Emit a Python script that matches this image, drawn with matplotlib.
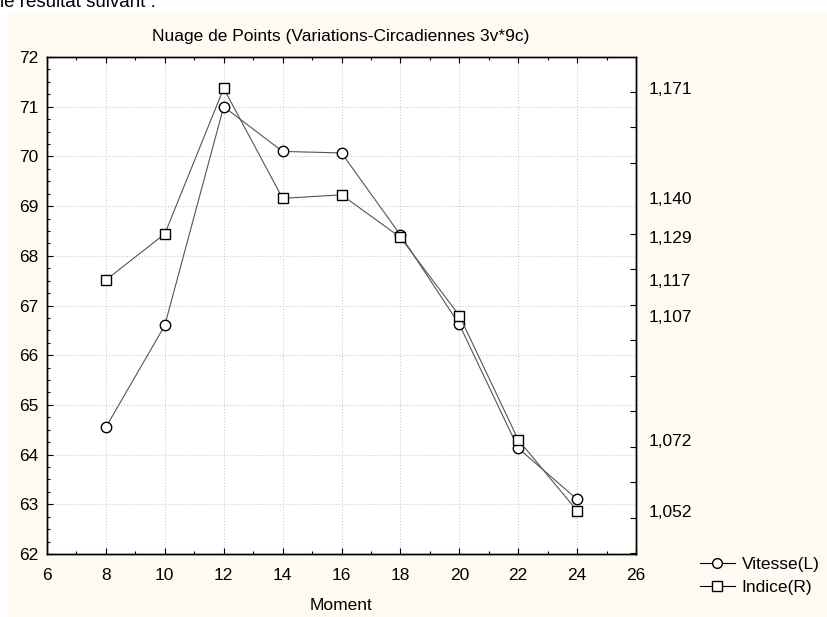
import matplotlib
matplotlib.use("Agg")
import matplotlib.pyplot as plt
from matplotlib.patches import Rectangle
from matplotlib.lines import Line2D
from matplotlib.ticker import MultipleLocator, FixedLocator

plt.rcParams['font.family'] = ['Liberation Sans', 'DejaVu Sans']

# data
moment = [8, 10, 12, 14, 16, 18, 20, 22, 24]
vitesse = [64.55, 66.6, 71.0, 70.1, 70.07, 68.42, 66.62, 64.13, 63.1]
indice = [1.117, 1.130, 1.171, 1.140, 1.141, 1.129, 1.107, 1.072, 1.052]
right_labels = [1.171, 1.140, 1.129, 1.117, 1.107, 1.072, 1.052]

title = "Nuage de Points (Variations-Circadiennes 3v*9c)"

fig = plt.figure(figsize=(8.28, 6.17), dpi=100)
fig.patch.set_facecolor("white")
fig.patches.append(Rectangle((7 / 828, 0), 1, 1 - 11 / 617, transform=fig.transFigure,
                             facecolor="#fffaf2", edgecolor="none", zorder=-10))
fig.text(0.0, 1 - 7 / 617, "le résultat suivant :", fontsize=13.5, va="baseline", ha="left")

ax = fig.add_axes([47 / 828, 1 - 554 / 617, 589 / 828, 497 / 617])
ax.set_facecolor("white")
ax2 = ax.twinx()

line_kw = dict(color="#555555", lw=0.8, markerfacecolor="white",
               markeredgecolor="black", markeredgewidth=1.0, markersize=7.5)
ax.plot(moment, vitesse, marker="o", **line_kw)
ax2.plot(moment, indice, marker="s", **line_kw)

ax.set_xlim(6, 26)
ax.set_ylim(62, 72)
ax.xaxis.set_major_locator(MultipleLocator(2))
ax.xaxis.set_minor_locator(MultipleLocator(1))
ax.yaxis.set_major_locator(MultipleLocator(1))
ax.yaxis.set_minor_locator(MultipleLocator(0.25))
ax.tick_params(which="both", direction="in", top=True, right=False, labelsize=12.5)
ax.tick_params(axis="x", pad=10)
ax.tick_params(axis="y", pad=6)
ax.tick_params(which="major", length=4, width=0.8)
ax.tick_params(which="minor", length=2, width=0.8)
ax.grid(True, which="major", color="#cccccc", linestyle=":", lw=0.8)

# right scale lined up with the left one
slope = (1.171 - 1.052) / (71.37 - 62.87)
ax2.set_ylim(1.052 + (62 - 62.87) * slope, 1.052 + (72 - 62.87) * slope)
ax2.yaxis.set_major_locator(FixedLocator(right_labels))
ax2.set_yticklabels([f"{v:.3f}".replace(".", ",") for v in right_labels])
ax2.yaxis.set_minor_locator(MultipleLocator(0.01))
ax2.tick_params(which="major", length=0, labelsize=12.5, pad=9)
ax2.tick_params(which="minor", direction="in", length=4, width=0.8)

for a in (ax, ax2):
    for s in a.spines.values():
        s.set_linewidth(1.0)

fig.text(341 / 828, 1 - 37 / 617, title, fontsize=12.5, ha="center", va="center")
fig.text(341 / 828, 1 - 606 / 617, "Moment", fontsize=12.5, ha="center", va="center")

leg_kw = dict(color="black", lw=0.8, markerfacecolor="white", markeredgecolor="black",
              markersize=7)
handles = [Line2D([], [], marker="o", **leg_kw), Line2D([], [], marker="s", **leg_kw)]
fig.legend(handles, ["Vitesse(L)", "Indice(R)"], loc="upper left",
           bbox_to_anchor=(700 / 828, 1 - 557 / 617), frameon=False, fontsize=12.5,
           handlelength=2.0, handletextpad=0.4, labelspacing=0.45, borderaxespad=0,
           borderpad=0)

fig.savefig("out.png", dpi=100)
